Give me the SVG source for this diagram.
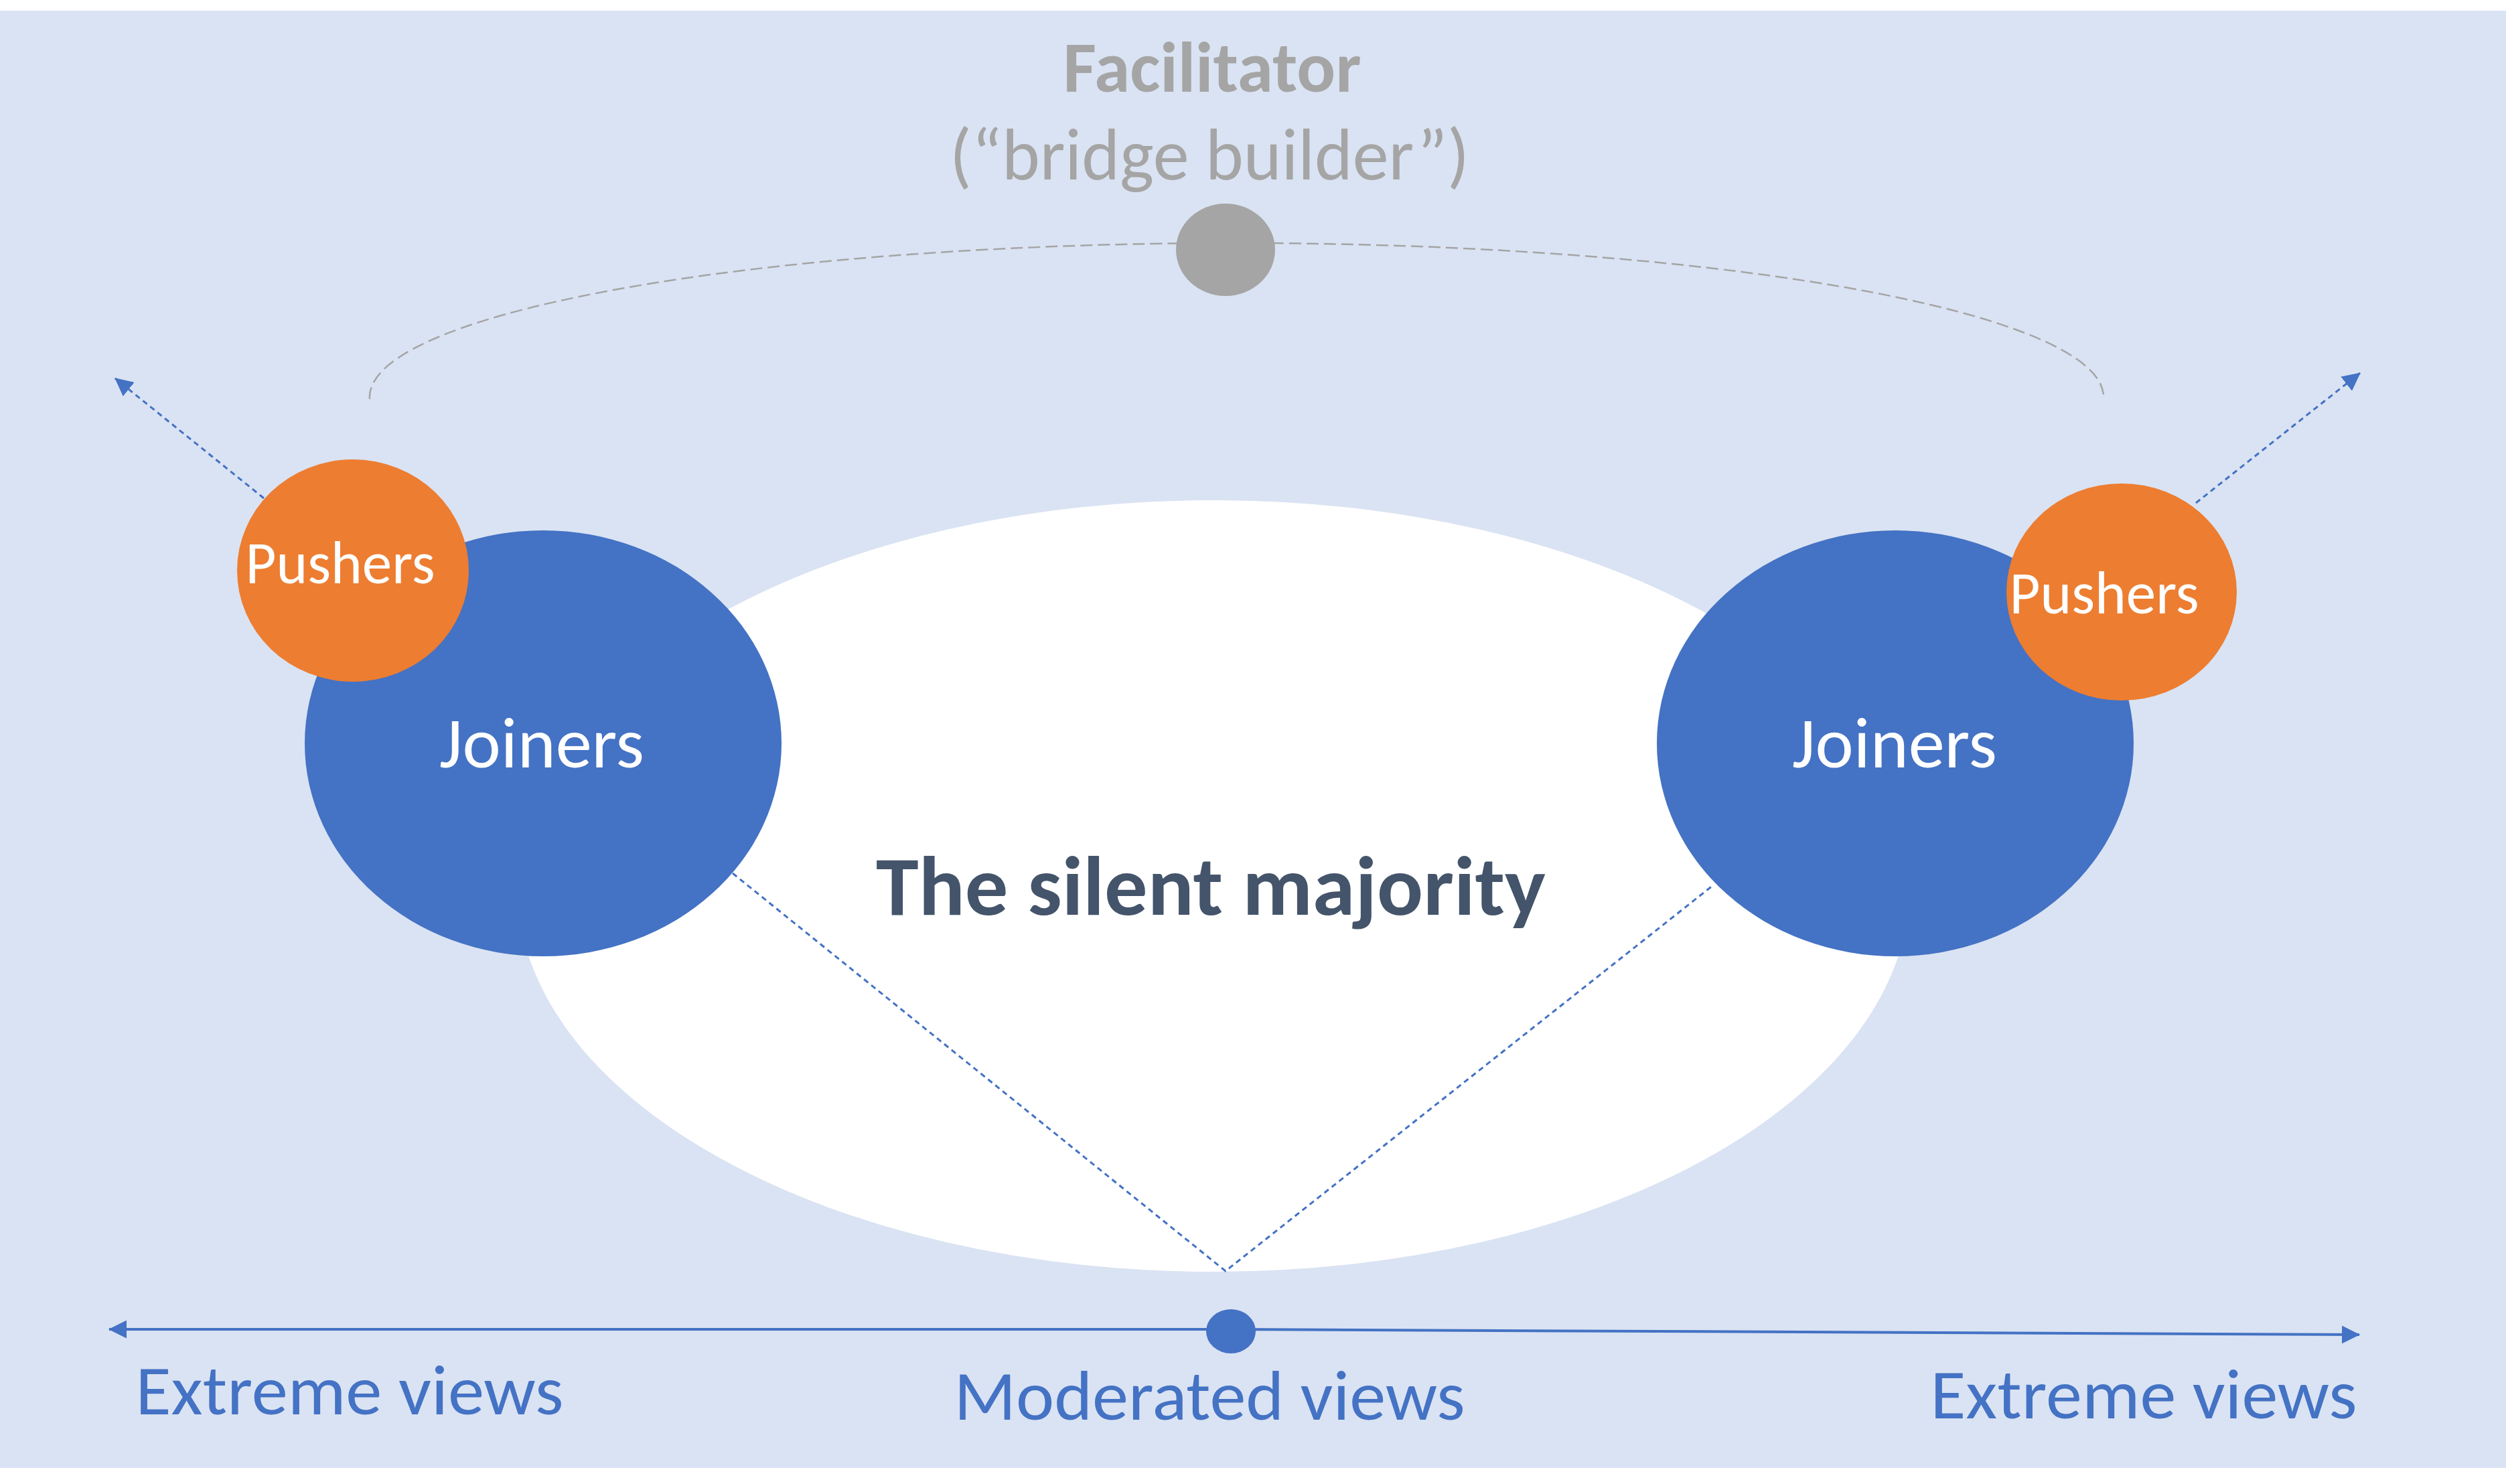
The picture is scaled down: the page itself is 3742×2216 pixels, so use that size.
<svg xmlns="http://www.w3.org/2000/svg" width="3742" height="2216" viewBox="0 0 3742 2216">
  <defs>
    <marker id="arrow" viewBox="0 0 27 27" refX="26" refY="13.5" markerWidth="27" markerHeight="27" markerUnits="userSpaceOnUse" orient="auto">
      <path d="M0 0 L27 13.5 L0 27 Z" fill="#4472C4"/>
    </marker>
    <style>
      .txt { font-family: Calibri, Carlito, "Liberation Sans", Arial, sans-serif; text-anchor: middle; }
      .bold { font-weight: bold; }
      .white { fill: #FFFFFF; }
      .joiner { fill: #4472C4; }
      .pusher { fill: #ED7D31; }
      .gray { fill: #A5A5A5; }
      .blue { fill: #4472C4; }
      .dashblue { fill: none; stroke: #4472C4; stroke-width: 3; stroke-dasharray: 8 6; }
      .axis { fill: none; stroke: #4472C4; stroke-width: 4; }
      .arc { fill: none; stroke: #A5A5A5; stroke-width: 2.5; stroke-dasharray: 18 8; }
    </style>
  </defs>

  <rect x="0" y="16" width="3742" height="2176" fill="#DAE3F3"/>

  <g id="silent-majority">
    <ellipse cx="1812" cy="1323" rx="1040" ry="576" fill="#FFFFFF"/>
    <text class="txt bold" x="1808" y="1366" font-size="125" fill="#44546A" textLength="1000" lengthAdjust="spacingAndGlyphs">The silent majority</text>
  </g>

  <g id="connectors">
    <path class="arc" d="M 552 596 A 1294 230 0 0 1 3141 590"/>
    <polyline class="dashblue" points="1094,1304 1830,1898 2558,1322"/>
    <line class="dashblue" x1="394" y1="744" x2="172" y2="565" marker-end="url(#arrow)"/>
    <line class="dashblue" x1="3279" y1="751" x2="3524" y2="557" marker-end="url(#arrow)"/>
    <line class="axis" x1="1838" y1="1985" x2="163" y2="1985" marker-end="url(#arrow)"/>
    <line class="axis" x1="1838" y1="1985" x2="3523" y2="1993" marker-end="url(#arrow)"/>
  </g>

  <g id="facilitator">
    <ellipse cx="1830" cy="373" rx="74" ry="69" class="gray"/>
    <text class="txt bold gray" x="1810" y="137" font-size="107" textLength="445" lengthAdjust="spacingAndGlyphs">Facilitator</text>
    <text class="txt gray" x="1806" y="268" font-size="110" textLength="776" lengthAdjust="spacingAndGlyphs">(“bridge builder”)</text>
  </g>

  <g id="joiners-left">
    <ellipse cx="811" cy="1110" rx="356" ry="318" class="joiner"/>
    <text class="txt white" x="809" y="1146" font-size="106" textLength="306" lengthAdjust="spacingAndGlyphs">Joiners</text>
  </g>

  <g id="pushers-left">
    <ellipse cx="527" cy="852" rx="173" ry="166" class="pusher"/>
    <text class="txt white" x="508" y="871" font-size="91" textLength="283" lengthAdjust="spacingAndGlyphs">Pushers</text>
  </g>

  <g id="joiners-right">
    <ellipse cx="2830" cy="1110" rx="356" ry="318" class="joiner"/>
    <text class="txt white" x="2829" y="1146" font-size="106" textLength="306" lengthAdjust="spacingAndGlyphs">Joiners</text>
  </g>

  <g id="pushers-right">
    <ellipse cx="3168" cy="884" rx="172" ry="162" class="pusher"/>
    <text class="txt white" x="3142" y="916" font-size="91" textLength="283" lengthAdjust="spacingAndGlyphs">Pushers</text>
  </g>

  <g id="moderated-point">
    <ellipse cx="1838" cy="1988" rx="37" ry="33" class="blue"/>
  </g>

  <g id="labels">
    <text class="txt blue" x="522" y="2112" font-size="105" textLength="639" lengthAdjust="spacingAndGlyphs">Extreme views</text>
    <text class="txt blue" x="1806" y="2120" font-size="105" textLength="763" lengthAdjust="spacingAndGlyphs">Moderated views</text>
    <text class="txt blue" x="3201" y="2118" font-size="105" textLength="637" lengthAdjust="spacingAndGlyphs">Extreme views</text>
  </g>
</svg>
